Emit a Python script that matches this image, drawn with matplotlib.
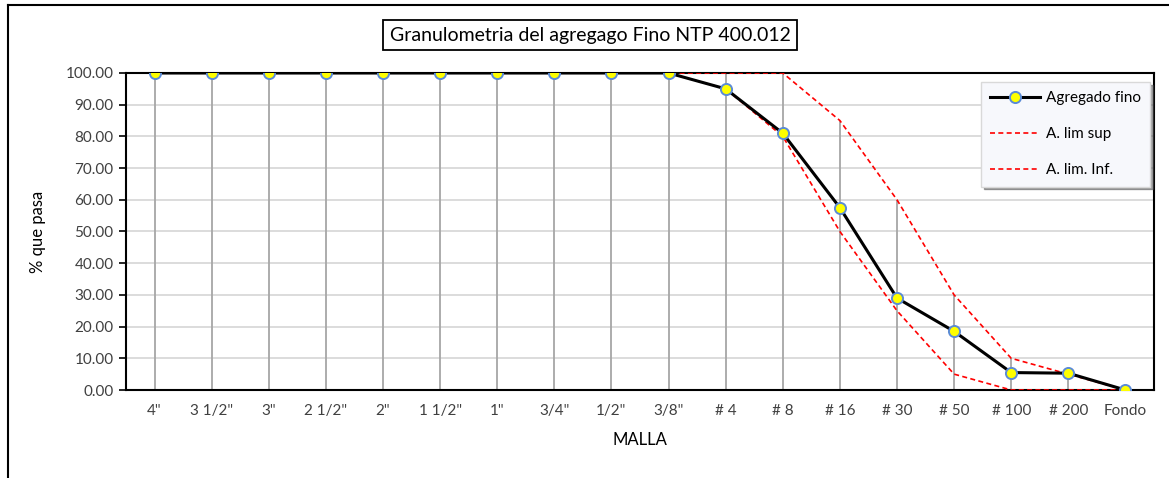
import matplotlib
matplotlib.use("Agg")
from matplotlib import pyplot as plt
from matplotlib.lines import Line2D
import numpy as np

plt.rcParams['font.family'] = ['Lato', 'DejaVu Sans']

# datos de la granulometria
mallas = ['4"', '3 1/2"', '3"', '2 1/2"', '2"', '1 1/2"', '1"', '3/4"', '1/2"',
          '3/8"', '# 4', '# 8', '# 16', '# 30', '# 50', '# 100', '# 200', 'Fondo']
agregado_fino = [100, 100, 100, 100, 100, 100, 100, 100, 100, 100,
                 95.0, 81.0, 57.5, 29.0, 18.5, 5.5, 5.3, 0.0]
lim_sup = [100, 100, 100, 100, 100, 100, 100, 100, 100, 100,
           100, 100, 85, 60, 30, 10, 5, 0]
lim_inf = [100, 100, 100, 100, 100, 100, 100, 100, 100, 100,
           95, 80, 50, 25, 5, 0, 0, 0]
y_ticks = [0, 10, 20, 30, 40, 50, 60, 70, 80, 90, 100]

x = np.arange(len(mallas))

fig = plt.figure(figsize=(11.69, 4.78), dpi=100)
ax = fig.add_axes([126/1169, 1 - 390/478, (1154-126)/1169, (390-73)/478])

# marco exterior
fig.add_artist(Line2D([8/1169, 8/1169], [0, 1 - 5/478], color='black', lw=1.5,
                      transform=fig.transFigure))
fig.add_artist(Line2D([8/1169, 1], [1 - 5/478, 1 - 5/478], color='black', lw=1.5,
                      transform=fig.transFigure))

# lineas de caida
top = np.maximum(np.maximum(agregado_fino, lim_sup), lim_inf)
ax.vlines(x, 0, top, color='#a6a6a6', lw=1.3, zorder=1)

ax.plot(x, lim_sup, '--', color='#ff0000', lw=1.2, dashes=(3, 2), zorder=3,
        label='A. lim sup')
ax.plot(x, lim_inf, '--', color='#ff0000', lw=1.2, dashes=(3, 2), zorder=3,
        label='A. lim. Inf.')
ax.plot(x, agregado_fino, '-', color='black', lw=2.2, marker='o', ms=8,
        mfc='#ffff00', mec='#5b8bd6', mew=1.4, zorder=4, label='Agregado fino')

ax.set_xlim(-0.5, len(mallas) - 0.5)
ax.set_ylim(0, 100)
ax.set_yticks(y_ticks)
ax.set_yticklabels(['%.2f' % v for v in y_ticks])
ax.set_xticks(x)
ax.set_xticklabels(mallas)
ax.yaxis.grid(True, color='#d9d9d9', lw=1.3)
ax.set_axisbelow(True)
ax.tick_params(axis='y', length=5, width=1.2, labelsize=11, colors='black',
               labelcolor='#404040', pad=4)
ax.tick_params(axis='x', length=0, labelsize=11, labelcolor='#404040', pad=10)
for s in ax.spines.values():
    s.set_color('black')
    s.set_linewidth(1.5)

ax.set_ylabel('% que pasa', fontsize=12, color='black', labelpad=14)
ax.set_xlabel('MALLA', fontsize=12, color='black', labelpad=10)

h, l = ax.get_legend_handles_labels()
leg = ax.legend([h[2], h[0], h[1]], [l[2], l[0], l[1]], loc='upper right',
                bbox_to_anchor=(0.996, 0.972), fontsize=11, frameon=True,
                fancybox=False, shadow=True, framealpha=1, labelspacing=1.45,
                handlelength=3.3, handletextpad=0.35, borderpad=0.6,
                borderaxespad=0)
leg.get_frame().set_facecolor('#f7f8fc')
leg.get_frame().set_edgecolor('#d9d9d9')

fig.text(590/1169, 1 - 35/478, 'Granulometria del agregago Fino NTP 400.012',
         fontsize=14, ha='center', va='center', color='black',
         bbox=dict(boxstyle='square,pad=0.35', fc='white', ec='black', lw=1.3))

fig.savefig('out.png', dpi=100)
